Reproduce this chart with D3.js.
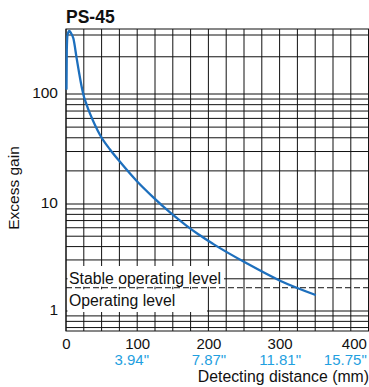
<!DOCTYPE html>
<html><head><meta charset="utf-8">
<script src="https://cdn.jsdelivr.net/npm/d3@7"></script>
<style>body{margin:0;background:#fff}svg{display:block;font-family:"Liberation Sans",Arial,Helvetica,sans-serif}</style>
</head><body><svg id="c" width="369" height="387"></svg>
<script>
const title = "PS-45";
const distMm = [0.7, 1.1, 2.1, 4.6, 7.0, 10.3, 15.0, 19.7, 22.5, 25.3, 28.1, 30.9, 33.7, 40.7, 47.8, 61.8, 75.8, 99.3, 122.6, 146.1, 169.5, 185.8, 206.5, 253.8, 300.6, 349.7];
const gain   = [110, 227, 300, 323, 311, 282, 194, 134.7, 110.8, 94.0, 82.9, 73.7, 66.4, 52.3, 42.4, 31.3, 24.2, 16.2, 11.5, 8.34, 6.25, 5.21, 4.24, 2.79, 1.92, 1.42];
const xTicks = [0, 100, 200, 300, 400];
const inchLabels = ["", "3.94\"", "7.87\"", "11.81\"", "15.75\""];
const yTicks = [1, 10, 100];
const xGrid = d3.range(0, 426, 25);
const yGrid = [0.7, 0.8, 0.9, 1, 2, 3, 4, 5, 6, 7, 8, 9, 10, 20, 30, 40, 50, 60, 70, 80, 90, 100, 200, 300];
const stableLevel = 1.65;
const stableText = "Stable operating level";
const operText = "Operating level";
const xTitle = "Detecting distance (mm)";
const yTitle = "Excess gain";

const svg = d3.select("#c");
const x = d3.scaleLinear().domain([0, 425]).range([66, 368.6]);
const y = d3.scaleLog().domain([0.65, 1, 10, 100, 300, 335]).range([331, 311, 204, 94, 35, 29]);
const x0 = x(0), x1 = x(425), yTop = y(335), yBot = y(0.65);

// grid
const g = svg.append("g").attr("stroke", "#111").attr("stroke-width", 1);
g.selectAll(".vx").data(xGrid).join("line")
  .attr("x1", d => x(d)).attr("x2", d => x(d)).attr("y1", yTop).attr("y2", yBot);
g.selectAll(".hy").data(yGrid).join("line")
  .attr("y1", d => y(d)).attr("y2", d => y(d)).attr("x1", x0).attr("x2", x1);
g.append("rect").attr("x", x0).attr("y", yTop).attr("width", x1 - x0).attr("height", yBot - yTop).attr("fill", "none");

// white label boxes
svg.append("rect").attr("x", x0 + 1.5).attr("y", 266).attr("width", 224 - x0 - 1.5).attr("height", y(stableLevel) - 266 - 1).attr("fill", "#fff");
svg.append("rect").attr("x", x0 + 1.5).attr("y", y(stableLevel) + 1.5).attr("width", 207 - x0 - 1.5).attr("height", y(1) + 1 - y(stableLevel) - 1.5).attr("fill", "#fff");

// dashed stable line
svg.append("line").attr("x1", x0).attr("x2", x1).attr("y1", y(stableLevel)).attr("y2", y(stableLevel))
  .attr("stroke", "#111").attr("stroke-width", 1).attr("stroke-dasharray", "6,3");

// labels
svg.append("text").attr("x", x0 + 3).attr("y", y(stableLevel) - 3.5).attr("font-size", 15.8).attr("fill", "#111").text(stableText);
svg.append("text").attr("x", x0 + 3).attr("y", y(stableLevel) + 18.5).attr("font-size", 15.8).attr("fill", "#111").text(operText);

// curve
const pts = distMm.map((d, i) => [d, gain[i]]);
svg.append("path").datum(pts)
  .attr("d", d3.line().x(d => x(d[0])).y(d => y(d[1])).curve(d3.curveMonotoneX))
  .attr("fill", "none").attr("stroke", "#1d6fbd").attr("stroke-width", 2.3).attr("stroke-linecap", "round").attr("stroke-linejoin", "round");

// y axis labels
const ya = svg.append("g").attr("transform", `translate(${x0},0)`)
  .call(d3.axisLeft(y).tickValues(yTicks).tickSize(0).tickPadding(8).tickFormat(d3.format("d")));
ya.select(".domain").remove();
ya.selectAll("text").attr("font-size", 15.5).attr("font-family", "Liberation Sans, Arial, sans-serif").attr("fill", "#111").attr("dy", "0.2em");

// x axis labels (mm)
const xa = svg.append("g").attr("transform", `translate(0,${yBot})`)
  .call(d3.axisBottom(x).tickValues(xTicks).tickSize(0).tickPadding(7).tickFormat(d3.format("d")));
xa.select(".domain").remove();
xa.selectAll("text").attr("font-size", 15).attr("font-family", "Liberation Sans, Arial, sans-serif").attr("fill", "#111")
  .attr("dx", d => d === 400 ? 3 : 0);

// x axis labels (inch)
const xi = svg.append("g").attr("transform", `translate(0,${yBot})`)
  .call(d3.axisBottom(x).tickValues(xTicks).tickSize(0).tickPadding(23).tickFormat((d, i) => inchLabels[i]));
xi.select(".domain").remove();
xi.selectAll("text").attr("font-size", 15).attr("font-family", "Liberation Sans, Arial, sans-serif").attr("fill", "#1fa0e0")
  .attr("dx", d => d === 400 ? -6 : (d === 100 ? -6 : 0));

// titles
svg.append("text").attr("x", 369).attr("y", 382).attr("text-anchor", "end").attr("font-size", 15.8).attr("fill", "#111").text(xTitle);
svg.append("text").attr("transform", "translate(19,188) rotate(-90)").attr("text-anchor", "middle").attr("font-size", 15.5).attr("fill", "#111").text(yTitle);
svg.append("text").attr("x", x0).attr("y", 23).attr("font-size", 17.5).attr("font-weight", "bold").attr("fill", "#111").text(title);
</script></body></html>
